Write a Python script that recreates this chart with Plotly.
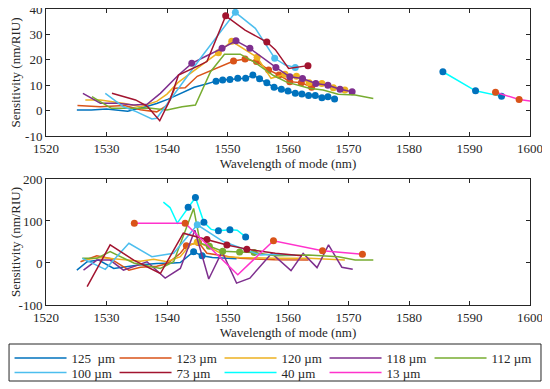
import plotly.graph_objects as go

# ---------------- data ----------------
series_names = ["125  µm", "123 µm", "120 µm", "118 µm", "112 µm", "100 µm", "73 µm", "40 µm", "13 µm"]
line_colors = ["#0072BD", "#D95319", "#EDB120", "#7E2F8E", "#77AC30", "#4DBEEE", "#A2142F", "#00FFFF", "#FF33CC"]
marker_colors = ["#0072BD", "#D95319", "#EDB120", "#7E2F8E", "#77AC30", "#4DBEEE", "#A2142F", "#0072BD", "#D95319"]

# top panel (wavelength nm, sensitivity nm/RIU), marker indices
t125_x = [1525.1, 1527.5, 1530.0, 1533.5, 1536.5, 1538.3, 1540.2, 1542.5, 1544.5, 1546.5, 1548.1, 1549.2, 1550.4, 1551.7,
          1553.0, 1554.2, 1555.3, 1556.5, 1557.7, 1558.9, 1560.0, 1561.2, 1562.3, 1563.4, 1564.5, 1565.6, 1566.6, 1567.7]
t125_y = [0.2, 0.2, 0.6, -0.3, 1.5, 2.8, 4.5, 7.0, 9.2, 10.5, 11.6, 12.0, 12.2, 12.7,
          12.7, 14.0, 12.5, 11.0, 9.2, 8.4, 7.7, 6.8, 6.5, 5.9, 5.9, 5.1, 5.4, 4.6]
t125_m = list(range(10, 28))

t123_x = [1525.2, 1529.0, 1533.0, 1535.6, 1538.3, 1540.0, 1541.3, 1543.0, 1545.0, 1548.0, 1551.0, 1552.9, 1554.8,
          1556.8, 1558.5, 1560.3, 1562.2, 1563.9]
t123_y = [2.0, 1.5, 2.0, 0.3, -0.5, 2.0, 8.8, 9.0, 13.5, 16.5, 19.5, 20.3, 19.3, 16.0, 14.0, 11.4, 11.0, 9.2]
t123_m = list(range(10, 18))

t120_x = [1526.5, 1529.0, 1533.0, 1535.6, 1538.3, 1540.0, 1541.8, 1543.3, 1545.5, 1548.5, 1550.7, 1554.9, 1557.2,
          1559.5, 1561.4, 1563.5, 1565.6, 1567.5, 1569.4]
t120_y = [4.2, 4.2, 2.8, 1.5, 3.6, 6.5, 11.0, 13.7, 17.5, 22.8, 27.3, 21.0, 12.7, 14.3, 13.5, 11.0, 10.7, 9.0, 8.1]
t120_m = [9, 10, 11, 13, 14, 15, 16, 17, 18]

t118_x = [1526.1, 1529.0, 1531.7, 1534.5, 1536.7, 1538.9, 1541.9, 1544.1, 1546.5, 1549.1, 1551.4, 1553.7, 1558.0,
          1560.3, 1562.4, 1564.6, 1566.6, 1568.6, 1570.6]
t118_y = [6.8, 2.9, 2.9, 2.2, 2.5, 6.8, 14.0, 18.6, 21.5, 24.5, 27.5, 24.5, 17.0, 13.3, 12.6, 10.7, 10.0, 8.4, 7.4]
t118_m = [7, 9, 10, 11, 12, 13, 14, 15, 16, 17, 18]

t112_x = [1527.6, 1530.8, 1534.5, 1537.0, 1540.0, 1542.5, 1544.7, 1547.2, 1549.5, 1552.1, 1554.3, 1557.6, 1559.8,
          1563.5, 1565.8, 1568.3, 1571.1, 1574.1]
t112_y = [5.5, 0.9, 0.9, 1.0, 0.2, 1.5, 2.2, 15.3, 22.2, 22.2, 19.3, 13.8, 11.2, 8.8, 8.1, 6.4, 6.1, 4.8]
t112_m = []

t100_x = [1529.8, 1532.8, 1535.0, 1537.5, 1538.3, 1545.5, 1551.3, 1554.6, 1557.8, 1559.5, 1561.2]
t100_y = [6.8, 1.5, -0.5, -3.3, -3.0, 20.5, 38.7, 32.4, 20.6, 18.0, 17.0]
t100_m = [6, 8, 10]

t73_x = [1530.9, 1534.8, 1536.7, 1538.8, 1540.5, 1541.9, 1545.5, 1546.6, 1549.7, 1552.9, 1556.5, 1557.9, 1560.1,
         1561.2, 1563.3]
t73_y = [6.8, 4.2, 1.8, -4.0, 4.2, 14.0, 18.0, 19.3, 37.3, 31.7, 27.0, 24.0, 16.6, 17.0, 17.7]
t73_m = [8, 10, 14]

t40_x = [1585.6, 1591.0, 1595.3]
t40_y = [15.3, 7.8, 5.6]
t40_m = [0, 1, 2]

t13_x = [1594.3, 1598.2, 1601.5]
t13_y = [7.2, 4.4, 3.3]
t13_m = [0, 1]

# bottom panel
b125_x = [1525.1, 1526.8, 1528.7, 1531.2, 1535.3, 1538.3, 1541.1, 1542.2, 1544.4, 1545.8, 1547.5, 1550.4, 1551.5]
b125_y = [-17, 3, 7, -13, -5, -1, 0, 1, 27, 17, 13, 10, 10]
b125_m = [8, 9]

b123_x = [1525.7, 1528.4, 1530.6, 1533.7, 1535.6, 1538.3, 1540.0, 1542.2, 1543.2, 1545.2, 1546.6, 1552.1, 1557.8, 1563.4]
b123_y = [3, 17, 11, -17, -10, -8, -2, 23, 41, 49, 23, 11, 8, 7]
b123_m = [8, 9]

b120_x = [1526.2, 1529.0, 1533.0, 1535.6, 1537.8, 1540.0, 1542.2, 1543.8, 1545.0, 1547.1, 1549.9, 1552.0, 1557.9,
          1563.4, 1569.4]
b120_y = [7, 13, 8, 4, 9, 3, 15, 43, 50, 37, 15, 13, 11, 11, 7]
b120_m = [8]

b118_x = [1526.2, 1528.4, 1530.6, 1532.8, 1536.7, 1539.7, 1542.2, 1544.6, 1546.9, 1549.1, 1551.5, 1553.7, 1557.3,
          1560.5, 1562.5, 1564.8, 1566.7, 1568.9, 1570.7]
b118_y = [-17, 7, 7, -17, 3, -36, -13, 78, -38, 27, -48, -36, 23, -18, 23, -11, 43, -10, -15]
b118_m = []

b112_x = [1526.0, 1528.4, 1530.6, 1534.5, 1538.9, 1541.1, 1544.4, 1545.5, 1547.0, 1549.2, 1552.0, 1554.4, 1557.9,
          1563.4, 1568.3, 1571.1, 1574.1]
b112_y = [11, 11, 27, 0, -13, 3, 130, 47, 40, 28, 26, 25, 17, 19, 15, 7, 7]
b112_m = [8, 9, 10, 11]

b100_x = [1526.0, 1529.8, 1533.7, 1537.5, 1541.1, 1545.0, 1549.3, 1555.4, 1557.9, 1561.2]
b100_y = [11, -15, 47, 15, 23, 91, 51, 19, 21, 19]
b100_m = [5]

b73_x = [1526.8, 1530.6, 1534.5, 1538.9, 1542.7, 1546.6, 1549.9, 1553.2, 1557.9, 1562.3]
b73_y = [-56, 43, 7, -25, 71, 56, 43, 33, 23, 17]
b73_m = [5, 6, 7]

b40_x = [1539.4, 1540.5, 1541.7, 1543.5, 1544.7, 1546.1, 1547.3, 1548.5, 1550.4, 1551.6, 1553.0]
b40_y = [145, 132, 95, 133, 156, 97, 80, 77, 79, 78, 62]
b40_m = [3, 4, 5, 7, 8, 10]

b13_x = [1534.6, 1543.0, 1551.7, 1557.6, 1565.7, 1572.3]
b13_y = [94.5, 94.5, -28, 53, 29, 21]
b13_m = [0, 1, 3, 4, 5]

x_ticks = [1520, 1530, 1540, 1550, 1560, 1570, 1580, 1590, 1600]
top_y_ticks = [-10, 0, 10, 20, 30, 40]
top_y_labels = ["-10", "0", "10", "20", "30", "40"]
bot_y_ticks = [-100, 0, 100, 200]
bot_y_labels = ["-100", "0", "100", "200"]

top_series = [(t125_x, t125_y, t125_m), (t123_x, t123_y, t123_m), (t120_x, t120_y, t120_m),
              (t118_x, t118_y, t118_m), (t112_x, t112_y, t112_m), (t100_x, t100_y, t100_m),
              (t73_x, t73_y, t73_m), (t40_x, t40_y, t40_m), (t13_x, t13_y, t13_m)]
bot_series = [(b125_x, b125_y, b125_m), (b123_x, b123_y, b123_m), (b120_x, b120_y, b120_m),
              (b118_x, b118_y, b118_m), (b112_x, b112_y, b112_m), (b100_x, b100_y, b100_m),
              (b73_x, b73_y, b73_m), (b40_x, b40_y, b40_m), (b13_x, b13_y, b13_m)]

# ---------------- figure ----------------
# The page body adds an 8 px margin, so the figure is sized to fill the rest of the 550x389 window.
FONT = "'Liberation Serif', 'Times New Roman', Times, serif"
AX = "#262626"
W, H = 542, 381
ML, MR, MT, MB = 37.5, 20, 1, 84
plot_w = W - ML - MR
plot_h = H - MT - MB


def px_x(px):
    return (px - ML) / plot_w


def px_y(py):
    return ((H - MB) - py) / plot_h


fig = go.Figure()

for panel, (xa, ya, series) in enumerate([("x", "y", top_series), ("x2", "y2", bot_series)]):
    for i, (xs, ys, mk) in enumerate(series):
        fig.add_trace(go.Scatter(
            x=xs, y=ys, mode="lines", name=series_names[i],
            line=dict(color=line_colors[i], width=1.5),
            xaxis=xa, yaxis=ya, showlegend=(panel == 0), legendrank=i + 1,
            legend="legend" if i < 5 else "legend2",
        ))
        if mk:
            fig.add_trace(go.Scatter(
                x=[xs[k] for k in mk], y=[ys[k] for k in mk], mode="markers",
                marker=dict(color=marker_colors[i], size=7, line=dict(width=0)),
                xaxis=xa, yaxis=ya, showlegend=False,
            ))

axis_common = dict(showline=True, linecolor=AX, linewidth=1, mirror="ticks", ticks="inside",
                   ticklen=4, tickcolor=AX, showgrid=False, zeroline=False, automargin=False,
                   ticklabeloverflow="allow",
                   tickfont=dict(family=FONT, size=13, color=AX))

legend_common = dict(orientation="h", xref="paper", yref="paper", xanchor="left", yanchor="top",
                     borderwidth=0, bgcolor="rgba(0,0,0,0)",
                     entrywidth=38, entrywidthmode="pixels", itemwidth=52, tracegroupgap=0,
                     font=dict(family=FONT, size=13, color=AX))

fig.update_layout(
    width=W, height=H,
    margin=dict(l=ML, r=MR, t=MT, b=MB, autoexpand=False),
    paper_bgcolor="white", plot_bgcolor="white",
    font=dict(family=FONT, size=13, color=AX),
    xaxis=dict(domain=[0, 1], anchor="y", range=[1520, 1600], tickvals=x_ticks,
               title=dict(text="Wavelength of mode (nm)", font=dict(family=FONT, size=13), standoff=0),
               **axis_common),
    yaxis=dict(domain=[0.571, 1], anchor="x", range=[-10, 40], tickvals=top_y_ticks, ticktext=top_y_labels,
               title=dict(text="Sensitivity (nm/RIU)", font=dict(family=FONT, size=13), standoff=15),
               **axis_common),
    xaxis2=dict(domain=[0, 1], anchor="y2", range=[1520, 1600], tickvals=x_ticks,
                title=dict(text="Wavelength of mode (nm)", font=dict(family=FONT, size=13), standoff=0),
                **axis_common),
    yaxis2=dict(domain=[0, 0.4257], anchor="x2", range=[-100, 200], tickvals=bot_y_ticks, ticktext=bot_y_labels,
                title=dict(text="Sensitivity (nm/RIU)", font=dict(family=FONT, size=13), standoff=15),
                **axis_common),
    legend=dict(x=px_x(1), y=px_y(335), **legend_common),
    legend2=dict(x=px_x(1), y=px_y(349.5), **legend_common),
    shapes=[dict(type="rect", xref="paper", yref="paper",
                 x0=px_x(0.5), x1=px_x(533), y0=px_y(336), y1=px_y(373),
                 line=dict(color=AX, width=1), fillcolor="rgba(0,0,0,0)", layer="above")],
    showlegend=True,
)

fig.write_html("out.html")
